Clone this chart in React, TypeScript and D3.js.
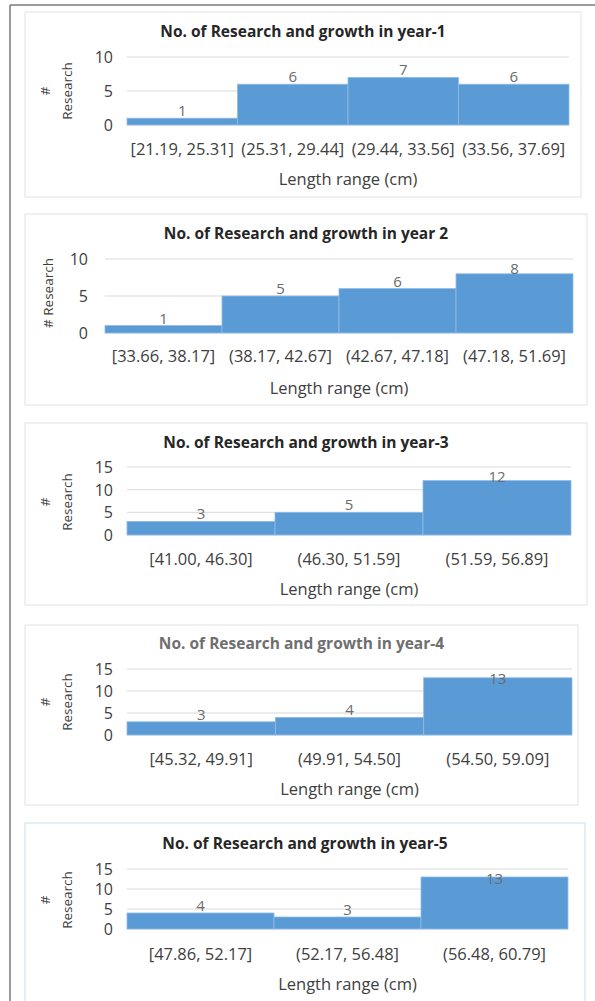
import React from "react";
import * as d3 from "d3";

// Histogram bins and counts for each year
const year1Bins = ["[21.19, 25.31]", "(25.31, 29.44]", "(29.44, 33.56]", "(33.56, 37.69]"];
const year1Counts = [1, 6, 7, 6];

const year2Bins = ["[33.66, 38.17]", "(38.17, 42.67]", "(42.67, 47.18]", "(47.18, 51.69]"];
const year2Counts = [1, 5, 6, 8];

const year3Bins = ["[41.00, 46.30]", "(46.30, 51.59]", "(51.59, 56.89]"];
const year3Counts = [3, 5, 12];

const year4Bins = ["[45.32, 49.91]", "(49.91, 54.50]", "(54.50, 59.09]"];
const year4Counts = [3, 4, 13];

const year5Bins = ["[47.86, 52.17]", "(52.17, 56.48]", "(56.48, 60.79]"];
const year5Counts = [4, 3, 13];

const titles = [
  "No. of Research and growth in year-1",
  "No. of Research and growth in year 2",
  "No. of Research and growth in year-3",
  "No. of Research and growth in year-4",
  "No. of Research and growth in year-5",
];
const ticks10 = [0, 5, 10];
const ticks15 = [0, 5, 10, 15];
const xTitle = "Length range (cm)";

const FONT = "'Open Sans', 'Liberation Sans', sans-serif";
const BAR = "#5b9bd5";
const TEXT = "#404040";

type PanelProps = {
  box: [number, number, number, number]; // x0, y0, x1, y1
  title: string;
  titleColor: string;
  titleY: number;
  bins: string[];
  counts: number[];
  ticks: number[];
  plot: [number, number, number, number]; // left, right, top(yMax), bottom(0)
  yTitleLines: string[];
  yTitleX: number[];
  yTitleY: number;
  tickRight: number;
  xLabelY: number;
  xTitleY: number;
  border: string;
};

function Panel(p: PanelProps) {
  const [bx0, by0, bx1, by1] = p.box;
  const [pl, pr, pt, pb] = p.plot;
  const yMax = p.ticks[p.ticks.length - 1];
  const x = d3.scaleBand<string>().domain(p.bins).range([pl, pr]).padding(0);
  const y = d3.scaleLinear().domain([0, yMax]).range([pb, pt]);
  return (
    <g>
      <rect x={bx0} y={by0} width={bx1 - bx0} height={by1 - by0} fill="#fff" stroke={p.border} strokeWidth={1} />
      <text x={(bx0 + bx1) / 2} y={p.titleY} textAnchor="middle" dominantBaseline="central"
        fontFamily={FONT} fontWeight="bold" fontSize={15.5} fill={p.titleColor}>{p.title}</text>
      {p.ticks.map((t) => (
        <g key={t}>
          <line x1={pl} x2={pr} y1={y(t)} y2={y(t)} stroke="#d9d9d9" strokeWidth={1} />
          <text x={p.tickRight} y={y(t)} textAnchor="end" dominantBaseline="central"
            fontFamily={FONT} fontSize={16} fill={TEXT}>{t}</text>
        </g>
      ))}
      {p.bins.map((b, i) => {
        const v = p.counts[i];
        const x0 = x(b) as number;
        const w = x.bandwidth();
        const top = y(v);
        const labelY = Math.max(top - 8, pt + 9);
        return (
          <g key={b}>
            <rect x={x0} y={top} width={w} height={pb - top} fill={BAR} stroke="#8fbbe6" strokeWidth={0.8} />
            <text x={x0 + w / 2} y={labelY} textAnchor="middle" dominantBaseline="central"
              fontFamily={FONT} fontSize={15} fill="#6b6b6b">{v}</text>
            <text x={x0 + w / 2} y={p.xLabelY} textAnchor="middle" dominantBaseline="central"
              fontFamily={FONT} fontSize={16.5} fill={TEXT}>{b}</text>
          </g>
        );
      })}
      {p.yTitleLines.map((s, i) => (
        <text key={s} transform={`translate(${p.yTitleX[i]},${p.yTitleY}) rotate(-90)`} textAnchor="middle"
          dominantBaseline="central" fontFamily={FONT} fontSize={13.5} fill={TEXT}>{s}</text>
      ))}
      <text x={(pl + pr) / 2} y={p.xTitleY} textAnchor="middle" dominantBaseline="central"
        fontFamily={FONT} fontSize={16.5} fill={TEXT}>{xTitle}</text>
    </g>
  );
}

export default function App() {
  const panels: PanelProps[] = [
    {
      box: [25, 12, 581, 197], title: titles[0], titleColor: "#262626", titleY: 31,
      bins: year1Bins, counts: year1Counts, ticks: ticks10, plot: [127, 569, 57, 125],
      yTitleLines: ["#", "Research"], yTitleX: [45, 67], yTitleY: 91, tickRight: 113,
      xLabelY: 148, xTitleY: 178, border: "#e2e2e2",
    },
    {
      box: [25, 214, 587, 405], title: titles[1], titleColor: "#262626", titleY: 233,
      bins: year2Bins, counts: year2Counts, ticks: ticks10, plot: [105, 573, 259, 333],
      yTitleLines: ["# Research"], yTitleX: [48], yTitleY: 293, tickRight: 88,
      xLabelY: 355, xTitleY: 387, border: "#e2e2e2",
    },
    {
      box: [25, 423, 587, 605], title: titles[2], titleColor: "#262626", titleY: 442,
      bins: year3Bins, counts: year3Counts, ticks: ticks15, plot: [127, 571, 467, 535],
      yTitleLines: ["#", "Research"], yTitleX: [45, 67], yTitleY: 502, tickRight: 113,
      xLabelY: 558, xTitleY: 588, border: "#e2e2e2",
    },
    {
      box: [25, 625, 578, 805], title: titles[3], titleColor: "#6f6f6f", titleY: 643,
      bins: year4Bins, counts: year4Counts, ticks: ticks15, plot: [127, 572, 669, 735],
      yTitleLines: ["#", "Research"], yTitleX: [45, 67], yTitleY: 702, tickRight: 113,
      xLabelY: 758, xTitleY: 788, border: "#e2e2e2",
    },
    {
      box: [25, 823, 585, 1010], title: titles[4], titleColor: "#262626", titleY: 843,
      bins: year5Bins, counts: year5Counts, ticks: ticks15, plot: [127, 568, 869, 929],
      yTitleLines: ["#", "Research"], yTitleX: [45, 67], yTitleY: 900, tickRight: 113,
      xLabelY: 953, xTitleY: 983, border: "#c9dde9",
    },
  ];
  return (
    <div style={{ position: "absolute", left: 0, top: 0 }}>
      <svg width={595} height={1001} style={{ display: "block", background: "#fff" }}>
        <rect x={0} y={0} width={595} height={1001} fill="#fff" />
        {panels.map((p) => <Panel key={p.title} {...p} />)}
        <line x1={10} x2={595} y1={5} y2={5} stroke="#7a7a7a" strokeWidth={1.5} />
        <line x1={10} x2={10} y1={5} y2={1001} stroke="#7a7a7a" strokeWidth={1.5} />
      </svg>
    </div>
  );
}
